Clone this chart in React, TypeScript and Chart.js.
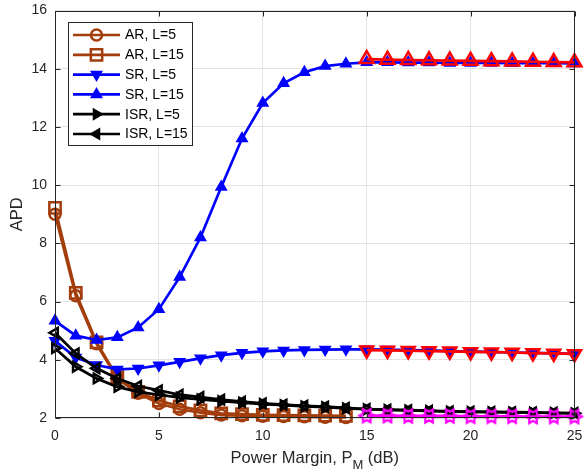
import React, { useEffect, useRef } from 'react';
import { Chart, registerables } from 'chart.js';

Chart.register(...registerables);

// ---------- data ----------
const X_MAIN = [0, 1, 2, 3, 4, 5, 6, 7, 8, 9, 10, 11, 12, 13, 14, 15, 16, 17, 18, 19, 20, 21, 22, 23, 24, 25];
const X_AR = [0, 1, 2, 3, 4, 5, 6, 7, 8, 9, 10, 11, 12, 13, 14];
const X_SIM = [15, 16, 17, 18, 19, 20, 21, 22, 23, 24, 25];

const AR_L5 = [9.0, 6.2, 4.55, 3.35, 2.85, 2.5, 2.3, 2.18, 2.1, 2.08, 2.06, 2.05, 2.04, 2.03, 2.02];
const AR_L15 = [9.22, 6.3, 4.6, 3.4, 2.9, 2.6, 2.4, 2.26, 2.16, 2.13, 2.11, 2.1, 2.09, 2.08, 2.07];
const SR_L5 = [4.65, 4.08, 3.82, 3.67, 3.7, 3.81, 3.93, 4.05, 4.16, 4.24, 4.29, 4.32, 4.34, 4.35, 4.36, 4.36, 4.35, 4.33, 4.32, 4.3, 4.28, 4.27, 4.25, 4.24, 4.22, 4.2];
const SR_L15 = [5.34, 4.83, 4.68, 4.77, 5.11, 5.74, 6.84, 8.2, 9.94, 11.6, 12.82, 13.5, 13.88, 14.09, 14.17, 14.22, 14.22, 14.21, 14.21, 14.2, 14.2, 14.2, 14.19, 14.19, 14.19, 14.18];
const ISR_L5 = [4.4, 3.76, 3.36, 3.07, 2.9, 2.8, 2.7, 2.64, 2.58, 2.53, 2.48, 2.44, 2.4, 2.37, 2.33, 2.3, 2.28, 2.26, 2.24, 2.22, 2.21, 2.2, 2.19, 2.18, 2.17, 2.16];
const ISR_L15 = [4.93, 4.22, 3.71, 3.36, 3.1, 2.95, 2.8, 2.72, 2.63, 2.56, 2.5, 2.46, 2.42, 2.39, 2.35, 2.31, 2.29, 2.27, 2.25, 2.23, 2.22, 2.21, 2.2, 2.19, 2.18, 2.17];
const SIM_SR_L15 = [14.33, 14.31, 14.3, 14.29, 14.28, 14.27, 14.26, 14.25, 14.24, 14.23, 14.22];
const SIM_SR_L5 = [4.33, 4.32, 4.31, 4.3, 4.29, 4.27, 4.26, 4.25, 4.23, 4.22, 4.2];
const SIM_LOW = [2.08, 2.08, 2.07, 2.07, 2.07, 2.06, 2.06, 2.06, 2.05, 2.05, 2.05];

const LEGEND_LABELS = ['AR, L=5', 'AR, L=15', 'SR, L=5', 'SR, L=15', 'ISR, L=5', 'ISR, L=15'];
const X_TICKS = [0, 5, 10, 15, 20, 25];
const Y_TICKS = [2, 4, 6, 8, 10, 12, 14, 16];
const X_TITLE_MAIN = 'Power Margin, P';
const X_TITLE_SUB = 'M';
const X_TITLE_END = ' (dB)';
const Y_TITLE = 'APD';

// ---------- styles ----------
const BROWN = '#A33D0C';
const BLUE = '#0000FF';
const BLACK = '#000000';
const RED = '#FF0000';
const MAGENTA = '#FF00FF';
const TEXT = '#262626';
const FONT = "'Liberation Sans', Arial, Helvetica, sans-serif";
const LW = 2.7;

const zip = (xs: number[], ys: number[]) => xs.map((x, i) => ({ x, y: ys[i] }));

function makeHexagram(r: number, color: string, lw: number) {
  const size = Math.ceil(2 * r + 2 * lw + 2);
  const c = document.createElement('canvas');
  c.width = size;
  c.height = size;
  const g = c.getContext('2d')!;
  const cx = size / 2, cy = size / 2;
  const ri = r / Math.sqrt(3);
  g.beginPath();
  for (let i = 0; i < 12; i++) {
    const a = (i * Math.PI) / 6;
    const rr = i % 2 === 0 ? r : ri;
    g.lineTo(cx + rr * Math.cos(a), cy - rr * Math.sin(a));
  }
  g.closePath();
  g.strokeStyle = color;
  g.lineWidth = lw;
  g.stroke();
  return c;
}

type Mk = { style: string; r: number; rot: number; color: string; fill: string; bw: number };

function drawMarker(ctx: CanvasRenderingContext2D, m: Mk, x: number, y: number) {
  ctx.save();
  ctx.beginPath();
  if (m.style === 'circle') {
    ctx.arc(x, y, m.r, 0, Math.PI * 2);
  } else if (m.style === 'rect') {
    const s = m.r * Math.SQRT1_2;
    ctx.rect(x - s, y - s, 2 * s, 2 * s);
  } else if (m.style === 'triangle') {
    let a = (m.rot * Math.PI) / 180;
    ctx.moveTo(x + Math.sin(a) * m.r, y - Math.cos(a) * m.r);
    a += (2 * Math.PI) / 3;
    ctx.lineTo(x + Math.sin(a) * m.r, y - Math.cos(a) * m.r);
    a += (2 * Math.PI) / 3;
    ctx.lineTo(x + Math.sin(a) * m.r, y - Math.cos(a) * m.r);
    ctx.closePath();
  }
  ctx.fillStyle = m.fill;
  ctx.fill();
  ctx.lineWidth = m.bw;
  ctx.strokeStyle = m.color;
  ctx.stroke();
  ctx.restore();
}

const LEGEND_MARKERS: Mk[] = [
  { style: 'circle', r: 5.5, rot: 0, color: BROWN, fill: 'rgba(0,0,0,0)', bw: 2.5 },
  { style: 'rect', r: 8, rot: 0, color: BROWN, fill: 'rgba(0,0,0,0)', bw: 2.5 },
  { style: 'triangle', r: 5.5, rot: 180, color: BLUE, fill: BLUE, bw: 2 },
  { style: 'triangle', r: 5.5, rot: 0, color: BLUE, fill: BLUE, bw: 2 },
  { style: 'triangle', r: 5.5, rot: 90, color: BLACK, fill: BLACK, bw: 2 },
  { style: 'triangle', r: 5.5, rot: 270, color: BLACK, fill: BLACK, bw: 2 },
];

const framePlugin = {
  id: 'frame',
  afterDatasetsDraw(chart: any) {
    const { ctx, chartArea } = chart;
    const { left, right, top, bottom } = chartArea;
    const xs = chart.scales.x, ys = chart.scales.y;
    ctx.save();
    ctx.strokeStyle = TEXT;
    ctx.lineWidth = 1;
    ctx.beginPath();
    const L = Math.round(left) + 0.5, R = Math.round(right) - 0.5;
    const T = Math.round(top) + 0.5, B = Math.round(bottom) - 0.5;
    X_TICKS.forEach((v) => {
      const px = Math.round(xs.getPixelForValue(v)) + 0.5;
      ctx.moveTo(px, B); ctx.lineTo(px, B - 5);
      ctx.moveTo(px, T); ctx.lineTo(px, T + 5);
    });
    Y_TICKS.forEach((v) => {
      const py = Math.round(ys.getPixelForValue(v)) + 0.5;
      ctx.moveTo(L, py); ctx.lineTo(L + 5, py);
      ctx.moveTo(R, py); ctx.lineTo(R - 5, py);
    });
    ctx.stroke();
    ctx.strokeRect(L, T, R - L, B - T);
    ctx.restore();
  },
  afterDraw(chart: any) {
    const { ctx, chartArea } = chart;
    const { left, right, top, bottom } = chartArea;
    ctx.save();
    // legend
    const bx = 68.5, by = 22.5, bw = 124, bh = 123;
    ctx.fillStyle = '#FFFFFF';
    ctx.fillRect(bx, by, bw, bh);
    ctx.strokeStyle = TEXT;
    ctx.lineWidth = 1;
    ctx.strokeRect(bx, by, bw, bh);
    const colors = [BROWN, BROWN, BLUE, BLUE, BLACK, BLACK];
    ctx.font = `14px ${FONT}`;
    ctx.textBaseline = 'middle';
    ctx.textAlign = 'left';
    LEGEND_LABELS.forEach((lab, i) => {
      const y = 35 + i * 19.8;
      ctx.strokeStyle = colors[i];
      ctx.lineWidth = LW;
      ctx.beginPath();
      ctx.moveTo(73, y);
      ctx.lineTo(120, y);
      ctx.stroke();
      drawMarker(ctx, LEGEND_MARKERS[i], 96.5, y);
      ctx.fillStyle = '#000000';
      ctx.fillText(lab, 125, y + 0.5);
    });
    // x title with subscript
    ctx.fillStyle = TEXT;
    ctx.textBaseline = 'alphabetic';
    const mainFont = `16.5px ${FONT}`;
    const subFont = `13px ${FONT}`;
    ctx.font = mainFont;
    const w1 = ctx.measureText(X_TITLE_MAIN).width;
    const w3 = ctx.measureText(X_TITLE_END).width;
    ctx.font = subFont;
    const w2 = ctx.measureText(X_TITLE_SUB).width;
    const total = w1 + w2 + w3;
    let x = (left + right) / 2 - total / 2;
    const base = 463;
    ctx.font = mainFont;
    ctx.fillText(X_TITLE_MAIN, x, base);
    x += w1;
    ctx.font = subFont;
    ctx.fillText(X_TITLE_SUB, x, base + 6);
    x += w2;
    ctx.font = mainFont;
    ctx.fillText(X_TITLE_END, x, base);
    // y title
    ctx.save();
    ctx.translate(17.5, (top + bottom) / 2);
    ctx.rotate(-Math.PI / 2);
    ctx.textAlign = 'center';
    ctx.textBaseline = 'middle';
    ctx.font = mainFont;
    ctx.fillText(Y_TITLE, 0, 0);
    ctx.restore();
    ctx.restore();
  },
};

const zeroPad = (s: any) => {
  s.paddingLeft = 0;
  s.paddingRight = 0;
  s.paddingTop = 0;
  s.paddingBottom = 0;
};

export default function App() {
  const ref = useRef<HTMLCanvasElement | null>(null);

  useEffect(() => {
    document.body.style.margin = '0';
    const canvas = ref.current!;
    const hexMagenta = makeHexagram(7.5, MAGENTA, 2.2);

    const line = (label: string, data: any[], color: string, style: any, r: number, rot: number, fill: string, bw: number, order: number) => ({
      label,
      data,
      borderColor: color,
      backgroundColor: color,
      borderWidth: LW,
      fill: false,
      tension: 0,
      pointStyle: style,
      pointRadius: r,
      pointRotation: rot,
      pointBorderColor: color,
      pointBackgroundColor: fill,
      pointBorderWidth: bw,
      clip: false,
      order,
    });

    const chart = new Chart(canvas, {
      type: 'line',
      data: {
        datasets: [
          line(LEGEND_LABELS[0], zip(X_AR, AR_L5), BROWN, 'circle', 5.5, 0, 'rgba(0,0,0,0)', 2.5, 9),
          line(LEGEND_LABELS[1], zip(X_AR, AR_L15), BROWN, 'rect', 8, 0, 'rgba(0,0,0,0)', 2.5, 8),
          line(LEGEND_LABELS[2], zip(X_MAIN, SR_L5), BLUE, 'triangle', 5.5, 180, BLUE, 2, 7),
          line(LEGEND_LABELS[3], zip(X_MAIN, SR_L15), BLUE, 'triangle', 5.5, 0, BLUE, 2, 6),
          line(LEGEND_LABELS[4], zip(X_MAIN, ISR_L5), BLACK, 'triangle', 5.5, 90, 'rgba(0,0,0,0)', 2.5, 5),
          line(LEGEND_LABELS[5], zip(X_MAIN, ISR_L15), BLACK, 'triangle', 5.5, 270, 'rgba(0,0,0,0)', 2.5, 4),
          line('sim SR L=15', zip(X_SIM, SIM_SR_L15), RED, 'triangle', 8, 0, 'rgba(0,0,0,0)', 2.5, 3),
          line('sim SR L=5', zip(X_SIM, SIM_SR_L5), RED, 'triangle', 7.5, 180, 'rgba(0,0,0,0)', 2.5, 2),
          line('sim low', zip(X_SIM, SIM_LOW), MAGENTA, hexMagenta, 7.5, 0, 'rgba(0,0,0,0)', 2.2, 1),
        ] as any,
      },
      options: {
        responsive: false,
        animation: false,
        events: [],
        layout: { padding: { top: 10, right: 8, left: 0, bottom: 0 } },
        plugins: {
          legend: { display: false },
          tooltip: { enabled: false },
          title: { display: false },
        },
        scales: {
          x: {
            type: 'linear',
            min: 0,
            max: 25,
            afterFit: (s: any) => { s.height = 57; zeroPad(s); },
            afterBuildTicks: (s: any) => { s.ticks = X_TICKS.map((v) => ({ value: v })); },
            ticks: {
              color: TEXT,
              font: { family: FONT, size: 14 },
              padding: 10,
              maxRotation: 0,
            },
            grid: { color: '#E3E3E3', lineWidth: 1, drawTicks: false },
            border: { display: false },
          },
          y: {
            type: 'linear',
            min: 2,
            max: 16,
            afterFit: (s: any) => { s.width = 55; zeroPad(s); },
            afterBuildTicks: (s: any) => { s.ticks = Y_TICKS.map((v) => ({ value: v })); },
            ticks: {
              color: TEXT,
              font: { family: FONT, size: 14 },
              padding: 8,
            },
            grid: { color: '#E3E3E3', lineWidth: 1, drawTicks: false },
            border: { display: false },
          },
        },
      } as any,
      plugins: [framePlugin as any],
    });
    return () => chart.destroy();
  }, []);

  return <canvas ref={ref} width={585} height={475} style={{ display: 'block' }} />;
}
